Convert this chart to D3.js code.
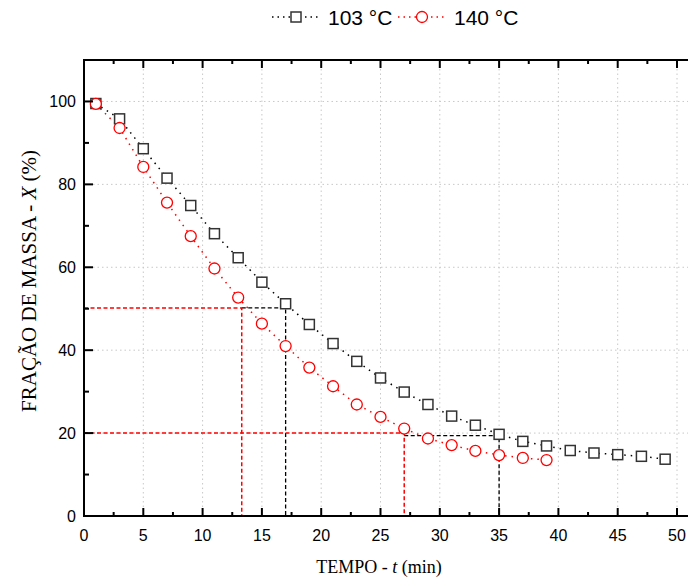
<!DOCTYPE html>
<html>
<head>
<meta charset="utf-8">
<script src="https://cdn.jsdelivr.net/npm/d3@7"></script>
<style>
  body { margin: 0; background: #fff; }
  svg { display: block; }
</style>
</head>
<body>
<div id="chart"></div>
<script>
// tempo (min) and mass fraction (%)
const time103 = [1, 3, 5, 7, 9, 11, 13, 15, 17, 19, 21, 23, 25, 27, 29, 31, 33, 35, 37, 39, 41, 43, 45, 47, 49];
const mass103 = [99.5, 95.8, 88.6, 81.5, 74.9, 68.1, 62.3, 56.4, 51.2, 46.2, 41.6, 37.3, 33.3, 29.9, 26.9, 24.1, 21.9, 19.7, 18.0, 16.9, 15.8, 15.2, 14.8, 14.4, 13.7];
const time140 = [1, 3, 5, 7, 9, 11, 13, 15, 17, 19, 21, 23, 25, 27, 29, 31, 33, 35, 37, 39];
const mass140 = [99.4, 93.6, 84.2, 75.6, 67.5, 59.7, 52.7, 46.4, 41.0, 35.8, 31.3, 26.9, 23.9, 21.1, 18.7, 17.1, 15.7, 14.7, 14.0, 13.5];

const seriesNames = ["103 °C", "140 °C"];
const xTicks = [0, 5, 10, 15, 20, 25, 30, 35, 40, 45, 50];
const yTicks = [0, 20, 40, 60, 80, 100];

// guide lines: [t, X] where the curves are read at 50 % and 20 %
const guide103 = [[17, 50.2], [35, 19.4]];
const guide140 = [[13.3, 50.2], [27, 20]];

const W = 688, H = 578;
const m = { left: 84, top: 60, bottom: 62 };

const svg = d3.select("#chart").append("svg")
  .attr("width", W).attr("height", H);

const x = d3.scaleLinear().domain([0, 51.5]).range([m.left, m.left + 51.5 * 11.86]);
const y = d3.scaleLinear().domain([0, 110]).range([H - m.bottom, m.top]);

//grid
const grid = svg.append("g")
  .attr("stroke", "#c8c8c8").attr("stroke-width", 1).attr("stroke-dasharray", "1.5,3");
grid.selectAll("line.vx").data(xTicks.filter(d => d > 0)).join("line")
  .attr("x1", d => x(d)).attr("x2", d => x(d)).attr("y1", y(0)).attr("y2", y(110));
grid.selectAll("line.hy").data(yTicks.filter(d => d > 0)).join("line")
  .attr("x1", x(0)).attr("x2", W).attr("y1", d => y(d)).attr("y2", d => y(d));

//reference lines (black under red)
const ref = svg.append("g").attr("fill", "none").attr("stroke-width", 1.5)
  .attr("stroke-dasharray", "4,2.5");
guide103.forEach(([t, v], i) => {
  ref.append("path").attr("stroke", "#000").attr("stroke-width", 1.3)
    .attr("d", d3.line()([[x(guide140[i][0]), y(v)], [x(t), y(v)], [x(t), y(0)]]));
});
guide140.forEach(([t, v]) => {
  ref.append("path").attr("stroke", "#ff0000")
    .attr("d", d3.line()([[x(0), y(v)], [x(t), y(v)], [x(t), y(0)]]));
});

//series
const line = d3.line().x(d => x(d[0])).y(d => y(d[1]));
const pts103 = time103.map((t, i) => [t, mass103[i]]);
const pts140 = time140.map((t, i) => [t, mass140[i]]);

svg.append("path").datum(pts103).attr("d", line)
  .attr("fill", "none").attr("stroke", "#000").attr("stroke-width", 1.5).attr("stroke-dasharray", "1.5,5");
svg.append("path").datum(pts140).attr("d", line)
  .attr("fill", "none").attr("stroke", "#ff0000").attr("stroke-width", 1.5).attr("stroke-dasharray", "1.5,5");

svg.append("g").selectAll("rect").data(pts103).join("rect")
  .attr("x", d => x(d[0]) - 5).attr("y", d => y(d[1]) - 5)
  .attr("width", 10).attr("height", 10)
  .attr("fill", "#fff").attr("stroke", "#333").attr("stroke-width", 1.5);
svg.append("g").selectAll("circle").data(pts140).join("circle")
  .attr("cx", d => x(d[0])).attr("cy", d => y(d[1])).attr("r", 5.5)
  .attr("fill", "#fff").attr("stroke", "#ff0000").attr("stroke-width", 1.3);

//axes
const minorX = d3.range(2.5, 51.5, 5);
const minorY = d3.range(10, 110, 20);
const axG = svg.append("g").attr("stroke", "#000").attr("stroke-width", 2);
axG.append("line").attr("x1", x(0)).attr("x2", W).attr("y1", y(0)).attr("y2", y(0));
axG.append("line").attr("x1", x(0)).attr("x2", W).attr("y1", y(110)).attr("y2", y(110));
axG.append("line").attr("x1", x(0)).attr("x2", x(0)).attr("y1", y(0) + 1).attr("y2", y(110) - 1);

const tk = (vals, len) => {
  vals.forEach(v => {
    axG.append("line").attr("x1", x(v)).attr("x2", x(v)).attr("y1", y(0)).attr("y2", y(0) - len);
    axG.append("line").attr("x1", x(v)).attr("x2", x(v)).attr("y1", y(110)).attr("y2", y(110) + len);
  });
};
tk(xTicks, 8);
tk(minorX, 4);
yTicks.forEach(v => axG.append("line").attr("x1", x(0)).attr("x2", x(0) + 9).attr("y1", y(v)).attr("y2", y(v)));
minorY.forEach(v => axG.append("line").attr("x1", x(0)).attr("x2", x(0) + 5).attr("y1", y(v)).attr("y2", y(v)));

const lab = svg.append("g").attr("font-family", "'Liberation Sans', Arial, sans-serif").attr("font-size", 16).attr("fill", "#000");
lab.selectAll("text.x").data(xTicks).join("text")
  .attr("x", d => x(d)).attr("y", y(0) + 25).attr("text-anchor", "middle").text(d => d);
lab.selectAll("text.y").data(yTicks).join("text")
  .attr("x", x(0) - 8).attr("y", d => y(d) + 6).attr("text-anchor", "end").text(d => d);

//titles
const serif = "'Liberation Serif', 'Times New Roman', serif";
const xt = svg.append("text").attr("x", 379).attr("y", 573).attr("text-anchor", "middle")
  .attr("font-family", serif).attr("font-size", 18);
xt.append("tspan").text("TEMPO - ");
xt.append("tspan").attr("font-style", "italic").text("t");
xt.append("tspan").text(" (min)");

const yt = svg.append("text").attr("transform", "translate(36,281) rotate(-90)")
  .attr("text-anchor", "middle").attr("font-family", serif).attr("font-size", 21);
yt.append("tspan").text("FRAÇÃO DE MASSA - ");
yt.append("tspan").attr("font-style", "italic").text("X");
yt.append("tspan").text(" (%)");

//legend
const leg = svg.append("g");
const legItems = [
  { name: seriesNames[0], x0: 272, color: "#000", tx: 328 },
  { name: seriesNames[1], x0: 398, color: "#ff0000", tx: 454 }
];
legItems.forEach((it, i) => {
  leg.append("line").attr("x1", it.x0).attr("x2", it.x0 + 48).attr("y1", 17).attr("y2", 17)
    .attr("stroke", it.color).attr("stroke-width", 1.5).attr("stroke-dasharray", "1.5,4");
  if (i === 0) {
    leg.append("rect").attr("x", it.x0 + 19).attr("y", 12).attr("width", 10).attr("height", 10)
      .attr("fill", "#fff").attr("stroke", "#333").attr("stroke-width", 1.5);
  } else {
    leg.append("circle").attr("cx", it.x0 + 24).attr("cy", 17).attr("r", 5.5)
      .attr("fill", "#fff").attr("stroke", "#ff0000").attr("stroke-width", 1.3);
  }
  leg.append("text").attr("x", it.tx).attr("y", 25)
    .attr("font-family", "'Liberation Sans', Arial, sans-serif").attr("font-size", 21).text(it.name);
});
</script>
</body>
</html>
